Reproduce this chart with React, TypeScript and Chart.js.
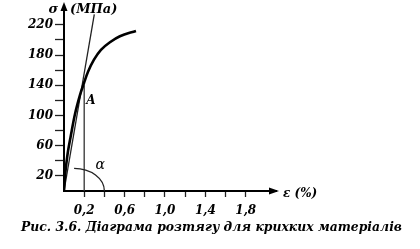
import React, { useEffect, useRef } from "react";
import { Chart, registerables } from "chart.js";

Chart.register(...registerables);

// Data
const curveX = [0, 0.01, 0.023, 0.04, 0.063, 0.109, 0.158, 0.198, 0.238, 0.297, 0.366, 0.455, 0.554, 0.713];
const curveY = [0, 20, 36, 53, 70, 102, 127, 143, 158, 174, 187, 197, 205, 212];
const tangentX = [0, 0.3];
const tangentY = [0, 234];
const markerX = [0.2, 0.2];
const markerY = [0, 140];
const arcCenterX = 0.1;
const arcRadiusX = 0.3;
const arcRadiusY = 30;

const xTickValues = [0.2, 0.4, 0.6, 0.8, 1.0, 1.2, 1.4, 1.6, 1.8];
const xTickLabels = ["0,2", "", "0,6", "", "1,0", "", "1,4", "", "1,8"];
const yTickValues = [20, 40, 60, 80, 100, 120, 140, 160, 180, 200, 220];
const yTickLabels = ["20", "", "60", "", "100", "", "140", "", "180", "", "220"];

const xMax = 2.1;
const yMax = 245;

const yTitleLeft = "σ";
const yTitleRight = "(МПа)";
const xTitle = "ε (%)";
const pointLabel = "A";
const angleLabel = "α";
const caption = "Рис. 3.6. Діаграма розтягу для крихких матеріалів";

const FAMILY = "'DejaVu Serif', 'Liberation Serif', serif";

const decorPlugin = {
  id: "decor",
  afterDraw(chart: any) {
    const { ctx, chartArea, scales } = chart;
    const xs = scales.x;
    const ys = scales.y;
    ctx.save();
    ctx.fillStyle = "#000";
    ctx.strokeStyle = "#000";

    // y arrow
    const ax = chartArea.left;
    ctx.beginPath();
    ctx.moveTo(ax, chartArea.top - 4);
    ctx.lineTo(ax - 3.5, chartArea.top + 5);
    ctx.lineTo(ax + 3.5, chartArea.top + 5);
    ctx.closePath();
    ctx.fill();

    // x arrow
    const ay = chartArea.bottom;
    ctx.beginPath();
    ctx.moveTo(chartArea.right + 3, ay);
    ctx.lineTo(chartArea.right - 7, ay - 3.5);
    ctx.lineTo(chartArea.right - 7, ay + 3.5);
    ctx.closePath();
    ctx.fill();

    // arc for angle
    const cx = xs.getPixelForValue(arcCenterX);
    const cy = ys.getPixelForValue(0);
    const rx = xs.getPixelForValue(arcCenterX + arcRadiusX) - cx;
    const ry = cy - ys.getPixelForValue(arcRadiusY);
    ctx.lineWidth = 1.3;
    ctx.strokeStyle = "#222";
    ctx.beginPath();
    ctx.ellipse(cx, cy, rx, ry, 0, -Math.PI / 2, 0);
    ctx.stroke();

    // texts
    ctx.fillStyle = "#000";
    ctx.textBaseline = "middle";
    ctx.font = `italic bold 13px ${FAMILY}`;
    ctx.textAlign = "right";
    ctx.fillText(yTitleLeft, ax - 6, 10);
    ctx.textAlign = "left";
    ctx.fillText(yTitleRight, ax + 6, 10);

    ctx.font = `italic bold 12px ${FAMILY}`;
    ctx.fillText(pointLabel, xs.getPixelForValue(0.22), ys.getPixelForValue(120));
    ctx.fillText(xTitle, chartArea.right + 7, ay + 3);

    ctx.font = `italic 14px ${FAMILY}`;
    ctx.textAlign = "center";
    ctx.fillText(angleLabel, xs.getPixelForValue(0.36), ys.getPixelForValue(34));

    // caption, fitted to the reference width
    ctx.font = `italic bold 12px ${FAMILY}`;
    ctx.textAlign = "left";
    const w = ctx.measureText(caption).width;
    const left = 21;
    const target = 381;
    ctx.translate(left, 227.5);
    ctx.scale(target / w, 1);
    ctx.fillText(caption, 0, 0);
    ctx.restore();
  },
};

export default function App() {
  const ref = useRef<HTMLCanvasElement | null>(null);

  useEffect(() => {
    if (!ref.current) return;
    const tickFont = { family: FAMILY, size: 12, style: "italic" as const, weight: "bold" as const };
    const chart = new Chart(ref.current, {
      type: "scatter",
      data: {
        datasets: [
          {
            data: curveX.map((x, i) => ({ x, y: curveY[i] })),
            showLine: true,
            borderColor: "#000",
            borderWidth: 2.6,
            pointRadius: 0,
            tension: 0.35,
          },
          {
            data: tangentX.map((x, i) => ({ x, y: tangentY[i] })),
            showLine: true,
            borderColor: "#222",
            borderWidth: 1.3,
            pointRadius: 0,
          },
          {
            data: markerX.map((x, i) => ({ x, y: markerY[i] })),
            showLine: true,
            borderColor: "#333",
            borderWidth: 1.3,
            pointRadius: 0,
          },
        ],
      },
      options: {
        responsive: false,
        animation: false,
        layout: { padding: { left: 0, top: 6, right: 144, bottom: 28 } },
        plugins: { legend: { display: false }, tooltip: { enabled: false } },
        scales: {
          x: {
            type: "linear",
            min: 0,
            max: xMax,
            afterBuildTicks: (s: any) => {
              s.ticks = xTickValues.map((v) => ({ value: v }));
            },
            afterFit: (s: any) => {
              s.height = 30;
              s.paddingLeft = 0;
              s.paddingRight = 0;
            },
            border: { display: true, color: "#000", width: 2 },
            grid: {
              drawOnChartArea: false,
              drawTicks: true,
              tickLength: 6,
              tickColor: "#222",
              tickWidth: 1.3,
            },
            ticks: {
              autoSkip: false,
              maxRotation: 0,
              padding: 7,
              color: "#000",
              font: tickFont,
              callback: (_v: any, i: number) => xTickLabels[i],
            },
          },
          y: {
            type: "linear",
            min: 0,
            max: yMax,
            afterBuildTicks: (s: any) => {
              s.ticks = yTickValues.map((v) => ({ value: v }));
            },
            afterFit: (s: any) => {
              s.width = 64;
              s.paddingTop = 0;
              s.paddingBottom = 0;
            },
            border: { display: true, color: "#000", width: 2 },
            grid: {
              drawOnChartArea: false,
              drawTicks: true,
              tickLength: 9,
              tickColor: "#222",
              tickWidth: 1.3,
            },
            ticks: {
              autoSkip: false,
              padding: 2,
              color: "#000",
              font: tickFont,
              callback: (_v: any, i: number) => yTickLabels[i],
            },
          },
        },
      },
      plugins: [decorPlugin],
    });
    return () => chart.destroy();
  }, []);

  return (
    <div style={{ position: "fixed", left: 0, top: 0, width: 420, height: 249, background: "#fff" }}>
      <canvas ref={ref} width={420} height={249} style={{ width: 420, height: 249, display: "block" }} />
    </div>
  );
}
